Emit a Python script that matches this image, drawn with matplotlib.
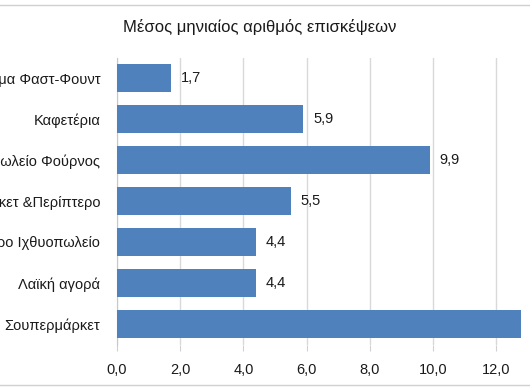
import matplotlib.pyplot as plt
import numpy as np

plt.rcParams['font.family'] = ['Liberation Sans', 'DejaVu Sans']

# data, top to bottom
categories = ['Κατάστημα Φαστ-Φουντ', 'Καφετέρια', 'Αρτοπωλείο Φούρνος',
              'Μίνι μάρκετ &Περίπτερο', 'Κρεοπωλείο Τυρο Ιχθυοπωλείο',
              'Λαϊκή αγορά', 'Σουπερμάρκετ']
values = [1.7, 5.9, 9.9, 5.5, 4.4, 4.4, 12.8]
xticks = [0, 2, 4, 6, 8, 10, 12]

W, H = 530, 392
fig = plt.figure(figsize=(W / 100, H / 100), dpi=100)

px_per_unit = (496 - 117) / 12.0
xmax = 14
ax = fig.add_axes([117 / W, 1 - 344.5 / H, xmax * px_per_unit / W, (344.5 - 57.5) / H])

y = np.arange(len(categories))
ax.barh(y, values, height=0.66, color='#4F81BD', zorder=3)
ax.set_ylim(len(categories) - 0.5, -0.5)
ax.set_xlim(0, xmax)

ax.set_yticks(y)
ax.set_yticklabels(categories, fontsize=10.5, color='#1a1a1a')
ax.set_xticks(xticks)
ax.set_xticklabels([f'{t:.1f}'.replace('.', ',') for t in xticks], fontsize=10.5, color='#1a1a1a')
ax.tick_params(axis='y', length=0, pad=12)
ax.tick_params(axis='x', length=4, color='#d0d0d0', pad=9)

ax.grid(axis='x', color='#d9d9d9', linewidth=1, zorder=0)
for s in ['top', 'right', 'bottom']:
    ax.spines[s].set_visible(False)
ax.spines['left'].set_color('#c8c8c8')

# value labels (the last one falls past the right edge, as in the source crop)
for yi, v in zip(y, values):
    ax.annotate(f'{v:.1f}'.replace('.', ','), (v, yi), xytext=(10, 0),
                textcoords='offset pixels', va='center', ha='left',
                fontsize=10.5, color='#1a1a1a', annotation_clip=False)

fig.text(260 / W, 1 - 27 / H, 'Μέσος μηνιαίος αριθμός επισκέψεων',
         ha='center', va='center', fontsize=12, color='#1a1a1a')

# frame lines of the chart area
fig.add_artist(plt.Line2D([0, 1], [1 - 5 / H, 1 - 5 / H], color='#d0d0d0', lw=1))
fig.add_artist(plt.Line2D([0, 1], [1 - 385 / H, 1 - 385 / H], color='#d0d0d0', lw=1))

fig.savefig('out.png', dpi=100)
